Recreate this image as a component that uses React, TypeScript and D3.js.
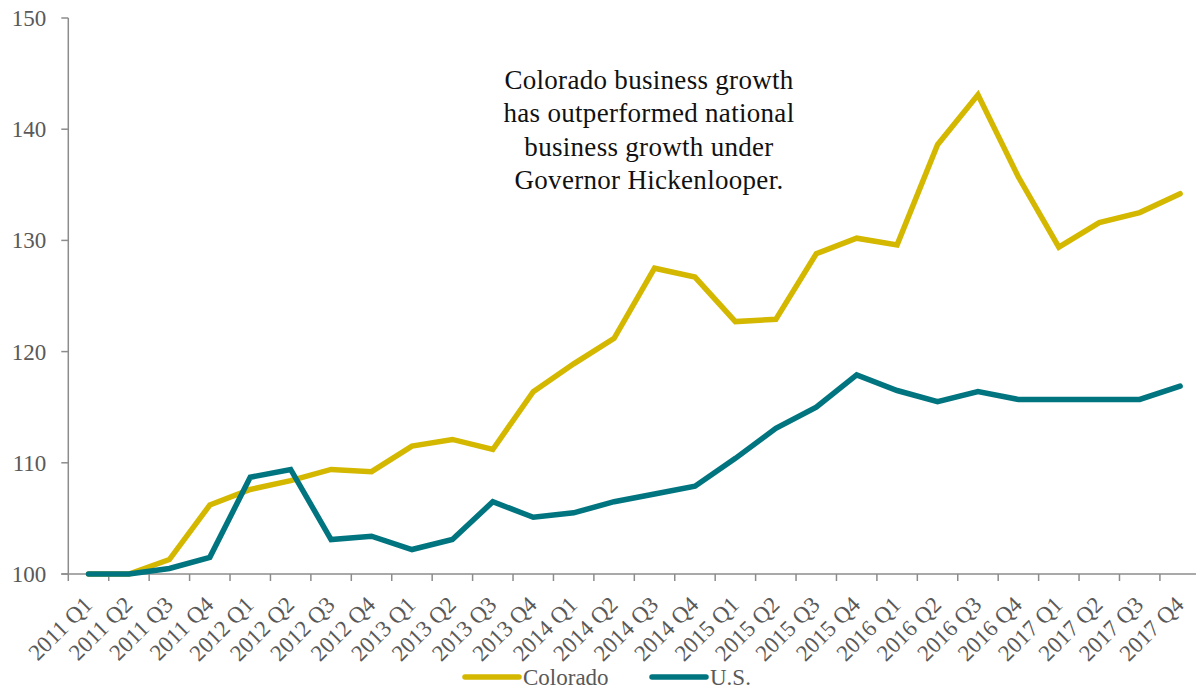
import React from "react";
import * as d3 from "d3";

const categories = [
  "2011 Q1", "2011 Q2", "2011 Q3", "2011 Q4",
  "2012 Q1", "2012 Q2", "2012 Q3", "2012 Q4",
  "2013 Q1", "2013 Q2", "2013 Q3", "2013 Q4",
  "2014 Q1", "2014 Q2", "2014 Q3", "2014 Q4",
  "2015 Q1", "2015 Q2", "2015 Q3", "2015 Q4",
  "2016 Q1", "2016 Q2", "2016 Q3", "2016 Q4",
  "2017 Q1", "2017 Q2", "2017 Q3", "2017 Q4",
];

const colorado = [
  100, 100, 101.3, 106.2,
  107.6, 108.4, 109.4, 109.2,
  111.5, 112.1, 111.2, 116.4,
  118.9, 121.2, 127.5, 126.7,
  122.7, 122.9, 128.8, 130.2,
  129.6, 138.6, 143.1, 135.7,
  129.4, 131.6, 132.5, 134.2,
];

const us = [
  100, 100, 100.5, 101.5,
  108.7, 109.4, 103.1, 103.4,
  102.2, 103.1, 106.5, 105.1,
  105.5, 106.5, 107.2, 107.9,
  110.4, 113.1, 115.0, 117.9,
  116.5, 115.5, 116.4, 115.7,
  115.7, 115.7, 115.7, 116.9,
];

const yTicks = [100, 110, 120, 130, 140, 150];

const annotationLines = [
  "Colorado business growth",
  "has outperformed national",
  "business growth under",
  "Governor Hickenlooper.",
];

const series = [
  { name: "Colorado", values: colorado, color: "#D4B800" },
  { name: "U.S.", values: us, color: "#007580" },
];

const W = 1196;
const H = 690;
const FONT = "'Liberation Serif', 'Times New Roman', serif";
const AXIS = "#8C8C8C";
const LABEL = "#595959";

export default function App() {
  const x = d3.scaleBand<string>().domain(categories).range([68.3, 68.3 + 40.43 * 28]);
  const y = d3.scaleLinear().domain([100, 150]).range([574, 18]);
  const cx = (c: string) => (x(c) as number) + x.bandwidth() / 2;

  const line = (vals: number[]) =>
    d3
      .line<number>()
      .x((_, i) => cx(categories[i]))
      .y((v) => y(v))(vals) as string;

  const x0 = 68.3;
  const xEnd = 1196;

  return (
    <svg
      width={W}
      height={H}
      style={{ position: "absolute", left: 0, top: 0, background: "#fff" }}
      fontFamily={FONT}
    >
      {/* y axis */}
      <line x1={x0} x2={x0} y1={y(150)} y2={y(100)} stroke={AXIS} strokeWidth={1.5} />
      {yTicks.map((t) => (
        <g key={t}>
          <line x1={x0 - 7} x2={x0} y1={y(t)} y2={y(t)} stroke={AXIS} strokeWidth={1.5} />
          <text
            x={x0 - 22}
            y={y(t)}
            dy="0.35em"
            textAnchor="end"
            fontSize={23}
            fill={LABEL}
          >
            {t}
          </text>
        </g>
      ))}

      {/* x axis */}
      <line x1={x0 - 7} x2={xEnd} y1={y(100)} y2={y(100)} stroke={AXIS} strokeWidth={1.5} />
      {categories.map((c) => (
        <line
          key={"t" + c}
          x1={x(c) as number}
          x2={x(c) as number}
          y1={y(100)}
          y2={y(100) + 7}
          stroke={AXIS}
          strokeWidth={1.5}
        />
      ))}
      {categories.map((c) => (
        <text
          key={"l" + c}
          transform={`translate(${cx(c) + 5},${y(100) + 32}) rotate(-45)`}
          textAnchor="end"
          fontSize={23}
          fill={LABEL}
        >
          {c}
        </text>
      ))}

      {/* lines */}
      {series.map((s) => (
        <path
          key={s.name}
          d={line(s.values)}
          fill="none"
          stroke={s.color}
          strokeWidth={5.5}
          strokeLinejoin="miter"
          strokeLinecap="round"
        />
      ))}

      {/* annotation */}
      <text textAnchor="middle" fontSize={27} fill="#111" letterSpacing={0.3}>
        {annotationLines.map((l, i) => (
          <tspan key={i} x={649} y={89 + i * 33.3}>
            {l}
          </tspan>
        ))}
      </text>

      {/* legend */}
      {series.map((s, i) => {
        const lx = i === 0 ? 465 : 652;
        return (
          <g key={"lg" + s.name}>
            <line
              x1={lx}
              x2={lx + 54}
              y1={677}
              y2={677}
              stroke={s.color}
              strokeWidth={5.5}
              strokeLinecap="round"
            />
            <text x={lx + 58} y={677} dy="0.35em" fontSize={23} fill={LABEL}>
              {s.name}
            </text>
          </g>
        );
      })}
    </svg>
  );
}
